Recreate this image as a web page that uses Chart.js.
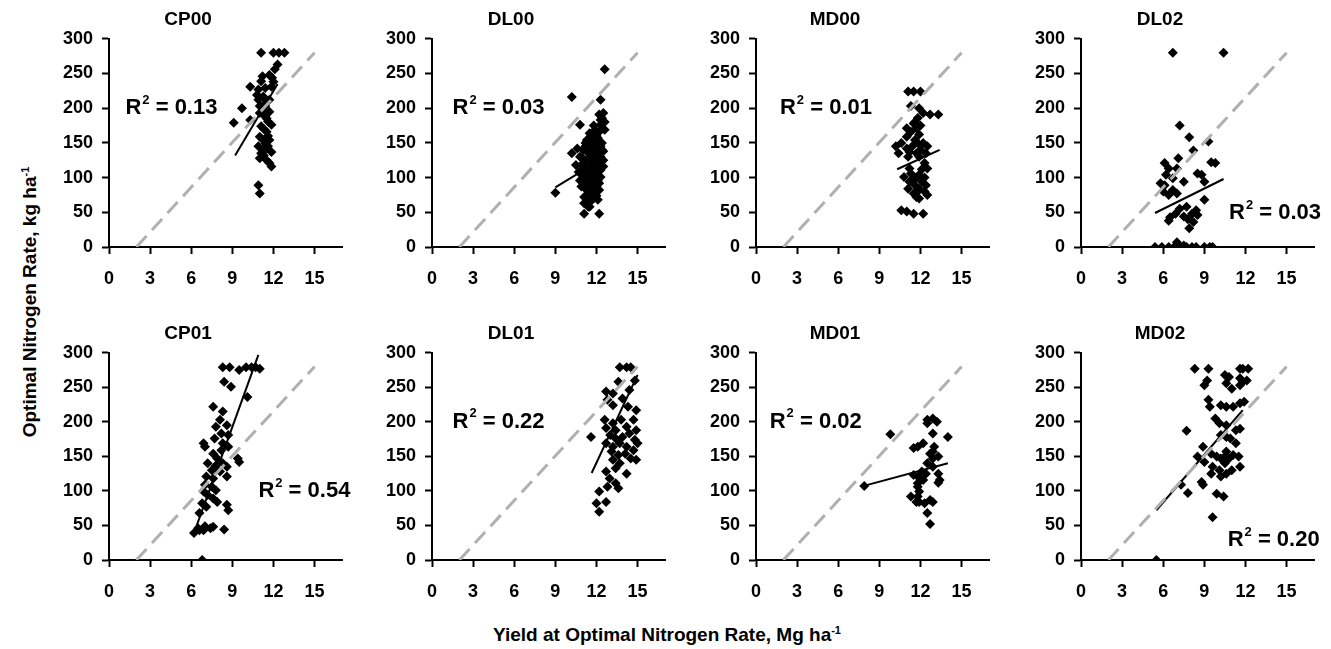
<!DOCTYPE html>
<html>
<head>
<meta charset="utf-8">
<script src="https://cdn.jsdelivr.net/npm/chart.js@4.4.0/dist/chart.umd.min.js"></script>
<style>
  html, body { margin: 0; padding: 0; background: #fff; }
  body { width: 1331px; height: 649px; position: relative; overflow: hidden;
         font-family: "Liberation Sans", Arial, sans-serif; }
  canvas { position: absolute; }
  .axis-title { position: absolute; font-weight: bold; font-size: 19px; color: #000; white-space: nowrap; }
  .axis-title sup { font-size: 11px; }
  #ytitle { left: 30px; top: 302px; transform: translate(-50%, -50%) rotate(-90deg); }
  #xtitle { left: 667px; top: 635px; transform: translate(-50%, -50%); }
</style>
</head>
<body>
<div id="ytitle" class="axis-title">Optimal Nitrogen Rate, kg ha<sup>-1</sup></div>
<div id="xtitle" class="axis-title">Yield at Optimal Nitrogen Rate, Mg ha<sup>-1</sup></div>
<script>
// Data: yield (Mg/ha) vs optimal N rate (kg/ha)
const cp00Yield = [11.1,12.0,12.4,12.8,12.3,12.1,11.7,10.3,10.9,11.1,11.2,11.25,11.85,11.7,10.8,10.9,11.4,9.7,9.1,10.3,11.0,11.4,11.6,11.1,11.5,11.0,11.85,11.25,10.9,11.25,11.6,11.1,11.85,11.0,11.5,11.7,11.85,10.9,11.0,11.4,11.7,11.4,11.7,11.4,11.0,11.3,11.5,11.2,11.6,11.3,11.5,12.0,11.9];
const cp00Nrate = [280,280,280,280,263,256,248,231,227,239,246,217,231,212,219,212,203,200,179,183,193,188,181,174,166,159,176,154,145,140,145,135,137,128,125,121,116,89,77,150,154,207,195,229,203,170,185,197,160,132,142,238,244];

const dl00Yield = [12.6,10.2,12.3,10.8,12.2,12.5,12.3,12.6,9.0,11.1,12.2,10.2,10.5,10.8,11.0,11.3,11.5,11.7,12.0,12.2,12.5,12.3,12.1,11.9,11.5,11.1,10.9,11.3,11.6,11.9,11.4,11.6,12.1,12.2,12.0,11.7,11.4,11.7,10.9,11.1,12.0,12.3,12.5,12.1,11.9,12.2,10.8,11.0,11.4,11.6,11.9,11.5,11.3,12.0,12.5,12.2,11.1,11.5,12.1,11.7,10.9,11.8,11.2,11.8,12.4,11.3,11.6,12.2,11.0,11.8,12.3,10.6,11.4,
  11.2,11.5,11.8,12.0,12.3,11.4,11.7,12.0,12.3,11.2,11.5,11.8,12.1,11.6,11.3,11.9,12.2,11.6,11.9,12.0,11.2,11.0,10.7,12.4,11.5,11.8,12.2,11.4,11.7,12.6,12.4];
const dl00Nrate = [256,216,212,176,191,193,183,169,78,48,48,135,118,130,140,154,164,159,150,140,125,111,96,82,68,63,87,101,116,130,135,145,130,121,106,94,80,68,106,121,87,101,138,157,169,166,96,94,92,104,116,125,113,138,116,82,72,58,68,125,118,140,145,100,150,88,85,110,110,175,176,142,58,
  150,150,155,160,145,125,110,120,130,95,100,120,112,130,140,145,100,75,92,74,84,128,108,140,110,88,92,105,140,180,186];

const md00Yield = [11.1,11.5,12.0,11.3,11.9,12.2,12.7,13.3,11.8,11.5,11.0,11.3,11.7,11.9,11.0,11.6,12.2,10.2,10.6,11.0,11.2,12.5,12.4,11.9,12.3,12.5,11.2,10.8,11.2,11.6,11.9,12.3,12.5,11.5,11.1,11.7,12.1,12.4,11.3,11.9,10.6,11.0,11.5,12.2,11.9,11.7,11.1,10.4,
  11.6,12.0,11.4,11.8,12.0,11.7,11.4,12.1,11.8,12.3];
const md00Nrate = [224,224,224,203,200,193,191,191,186,178,171,166,171,162,159,154,150,145,150,142,137,145,135,130,121,113,113,101,94,89,84,80,75,77,84,72,94,89,106,104,53,51,48,48,70,135,130,135,
  180,175,145,150,140,100,95,112,80,100];

const dl02Yield = [6.7,10.4,7.2,7.9,9.3,8.2,7.1,6.1,6.4,7.0,6.2,6.7,9.5,9.8,8.5,8.8,9.0,7.5,5.8,6.1,6.7,6.0,7.0,6.4,9.0,7.7,8.4,8.1,7.2,6.9,6.5,7.5,8.5,7.8,8.2,7.9,6.4,5.4,5.9,6.4,6.8,7.2,7.7,8.1,8.4,9.0,9.4,9.6,7.0,7.5];
const dl02Nrate = [280,280,175,158,152,139,128,121,113,113,104,99,122,121,106,104,94,94,92,89,82,80,77,75,68,58,53,48,55,48,43,44,46,40,36,27,38,0,0,0,0,0,0,0,0,0,0,0,7,2];

const cp01Yield = [8.3,8.8,9.5,10.0,10.4,10.7,11.0,8.4,8.9,10.1,7.6,8.3,8.1,8.6,7.8,8.2,8.7,7.7,8.3,8.7,6.9,7.0,8.2,7.6,7.9,9.4,9.5,7.2,7.8,8.3,8.6,7.5,8.1,8.6,7.1,7.6,7.0,7.5,7.8,6.9,7.2,7.6,7.9,8.6,8.7,6.8,7.1,6.6,6.2,6.5,6.9,7.4,7.6,7.0,8.4,6.8,6.6];
const cp01Nrate = [279,279,275,279,279,279,277,258,251,236,222,215,203,195,193,183,181,176,169,164,169,164,159,154,147,147,142,140,137,140,135,130,128,121,121,118,109,106,101,99,94,89,84,80,72,82,77,68,39,46,43,46,48,49,44,0,43];

const dl01Yield = [13.7,14.2,14.5,13.6,14.8,13.2,14.4,12.7,12.8,13.2,13.9,14.3,14.9,11.6,12.6,12.7,13.2,13.4,13.8,14.2,14.7,13.0,13.4,13.9,14.4,14.8,12.7,13.2,13.7,14.2,14.7,13.1,13.6,14.1,14.5,13.2,13.7,14.9,12.7,13.4,14.2,12.96,13.4,13.6,12.2,12.8,12.7,12.0,12.2,15.0,14.9];
const dl01Nrate = [279,279,279,258,260,241,246,244,232,224,234,222,217,178,203,191,198,188,203,193,203,181,176,178,183,174,169,164,169,164,159,157,152,154,147,145,140,145,128,133,125,118,111,104,99,106,84,82,70,169,188];

const md01Yield = [7.9,9.8,12.5,12.9,13.2,12.5,14.0,12.9,12.2,11.5,11.8,13.0,12.9,13.3,12.7,12.5,12.9,13.3,13.4,13.3,11.5,11.8,12.1,12.2,11.8,11.8,11.9,11.8,11.9,12.3,12.7,12.9,12.5,12.7,11.3,11.7,12.9,12.4];
const md01Nrate = [107,182,203,205,200,198,178,183,169,162,164,164,157,150,154,140,135,125,116,112,123,121,128,116,111,106,99,92,84,82,87,84,68,52,92,84,147,125];

const md02Yield = [8.3,9.3,11.6,11.8,12.2,10.5,10.8,11.6,9.2,9.0,10.6,11.0,11.8,12.1,11.6,9.3,9.4,10.2,10.6,11.1,11.6,11.9,9.8,10.1,10.6,11.3,11.6,7.7,10.2,10.6,10.9,11.3,8.9,8.5,9.0,9.5,9.9,10.2,10.5,10.8,11.1,11.5,11.6,11.0,10.6,10.1,9.6,9.5,10.2,8.8,8.9,7.3,7.8,9.9,10.4,9.6,5.5,10.5,10.6];
const md02Nrate = [277,277,277,277,277,268,265,263,260,253,256,248,258,260,253,232,222,224,222,222,227,229,205,198,195,188,190,187,181,178,176,169,164,150,142,154,150,147,140,147,152,150,135,130,125,130,135,125,121,113,109,109,97,96,92,62,0,150,157];

// fitted regression lines (end points) and R² values
const cp00Fit = { x: [9.2, 12.3], y: [132, 235] };
const dl00Fit = { x: [9.0, 12.5], y: [86, 128] };
const md00Fit = { x: [10.3, 13.4], y: [112, 140] };
const dl02Fit = { x: [5.4, 10.4], y: [49, 98] };
const cp01Fit = { x: [6.2, 10.9], y: [39, 297] };
const dl01Fit = { x: [11.65, 15.0], y: [126, 268] };
const md01Fit = { x: [7.8, 14.0], y: [107, 140] };
const md02Fit = { x: [5.5, 11.8], y: [72, 217] };

const r2Values = ['0.13', '0.03', '0.01', '0.03', '0.54', '0.22', '0.02', '0.20'];
const panelTitles = ['CP00', 'DL00', 'MD00', 'DL02', 'CP01', 'DL01', 'MD01', 'MD02'];

// dashed reference line, same in every panel
const refLineX = [2, 15];
const refLineY = [0, 280];

const xTicks = [0, 3, 6, 9, 12, 15];
const yTicks = [0, 50, 100, 150, 200, 250, 300];

const FONT = '"Liberation Sans", Arial, sans-serif';
Chart.defaults.font.family = FONT;
Chart.defaults.color = '#000';

const panelData = [
  [cp00Yield, cp00Nrate, cp00Fit], [dl00Yield, dl00Nrate, dl00Fit],
  [md00Yield, md00Nrate, md00Fit], [dl02Yield, dl02Nrate, dl02Fit],
  [cp01Yield, cp01Nrate, cp01Fit], [dl01Yield, dl01Nrate, dl01Fit],
  [md01Yield, md01Nrate, md01Fit], [md02Yield, md02Nrate, md02Fit]
];

// where the R² text sits in each panel (data units) and panel origins in px
const labelPos = [[1.2, 200], [1.5, 200], [1.75, 200], [10.8, 49], [10.9, 100], [1.5, 200], [1.0, 200], [10.7, 29]];
const colOrigins = [109, 432, 756, 1081];

const toPoints = (xs, ys) => xs.map((x, i) => ({ x: x, y: ys[i] }));

// draws "R² = value" at a data position
const r2Plugin = {
  id: 'r2label',
  afterDatasetsDraw(chart, args, opts) {
    const ctx = chart.ctx;
    const px = chart.scales.x.getPixelForValue(opts.at[0]);
    const py = chart.scales.y.getPixelForValue(opts.at[1]);
    ctx.save();
    ctx.fillStyle = '#000';
    ctx.textBaseline = 'middle';
    ctx.textAlign = 'left';
    ctx.font = 'bold 22px ' + FONT;
    ctx.fillText('R', px, py);
    let w = ctx.measureText('R').width + 1;
    ctx.font = 'bold 13px ' + FONT;
    ctx.fillText('2', px + w, py - 8);
    w += ctx.measureText('2').width;
    ctx.font = 'bold 22px ' + FONT;
    ctx.fillText(' = ' + opts.text, px + w, py);
    ctx.restore();
  }
};

function axisOpts(min, max, fit) {
  return {
    type: 'linear',
    min: min,
    max: max,
    afterBuildTicks: fit === 'x'
      ? (s) => { s.ticks = xTicks.map(v => ({ value: v })); }
      : (s) => { s.ticks = yTicks.map(v => ({ value: v })); },
    afterFit: fit === 'x' ? (s) => { s.height = 48; } : (s) => { s.width = 75; },
    ticks: { font: { size: 18, weight: 'bold' }, color: '#000', padding: fit === 'x' ? 14 : 9 },
    grid: { drawOnChartArea: false, drawTicks: true, tickLength: 7, tickColor: '#000', tickWidth: 2 },
    border: { display: true, color: '#000', width: 2 }
  };
}

panelData.forEach((d, i) => {
  const row = Math.floor(i / 4);
  const col = i % 4;
  const canvas = document.createElement('canvas');
  canvas.width = 320;
  canvas.height = row === 0 ? 295 : 294;
  canvas.style.left = (colOrigins[col] - 75) + 'px';
  canvas.style.top = (row === 0 ? 0 : 314) + 'px';
  document.body.appendChild(canvas);

  new Chart(canvas, {
    type: 'scatter',
    data: {
      datasets: [
        {
          data: toPoints(refLineX, refLineY),
          showLine: true, pointRadius: 0,
          borderColor: '#b0b0b0', borderWidth: 3, borderDash: [15, 8],
          order: 0
        },
        {
          data: toPoints(d[2].x, d[2].y),
          showLine: true, pointRadius: 0,
          borderColor: '#000', borderWidth: 2,
          order: 1
        },
        {
          data: toPoints(d[0], d[1]),
          pointStyle: 'rectRot', pointRadius: 5,
          backgroundColor: '#000', borderColor: '#000', borderWidth: 0,
          order: 2
        }
      ]
    },
    options: {
      responsive: false,
      animation: false,
      devicePixelRatio: 1,
      layout: { padding: { left: 0, right: 12, top: 0, bottom: 0 } },
      scales: {
        x: axisOpts(0, 17, 'x'),
        y: axisOpts(0, 300, 'y')
      },
      plugins: {
        legend: { display: false },
        tooltip: { enabled: false },
        title: {
          display: true, text: panelTitles[i], color: '#000',
          font: { size: 19, weight: 'bold' },
          padding: { top: 8, bottom: 8 }
        },
        r2label: { text: r2Values[i], at: labelPos[i] }
      }
    },
    plugins: [r2Plugin]
  });
});
</script>
</body>
</html>
